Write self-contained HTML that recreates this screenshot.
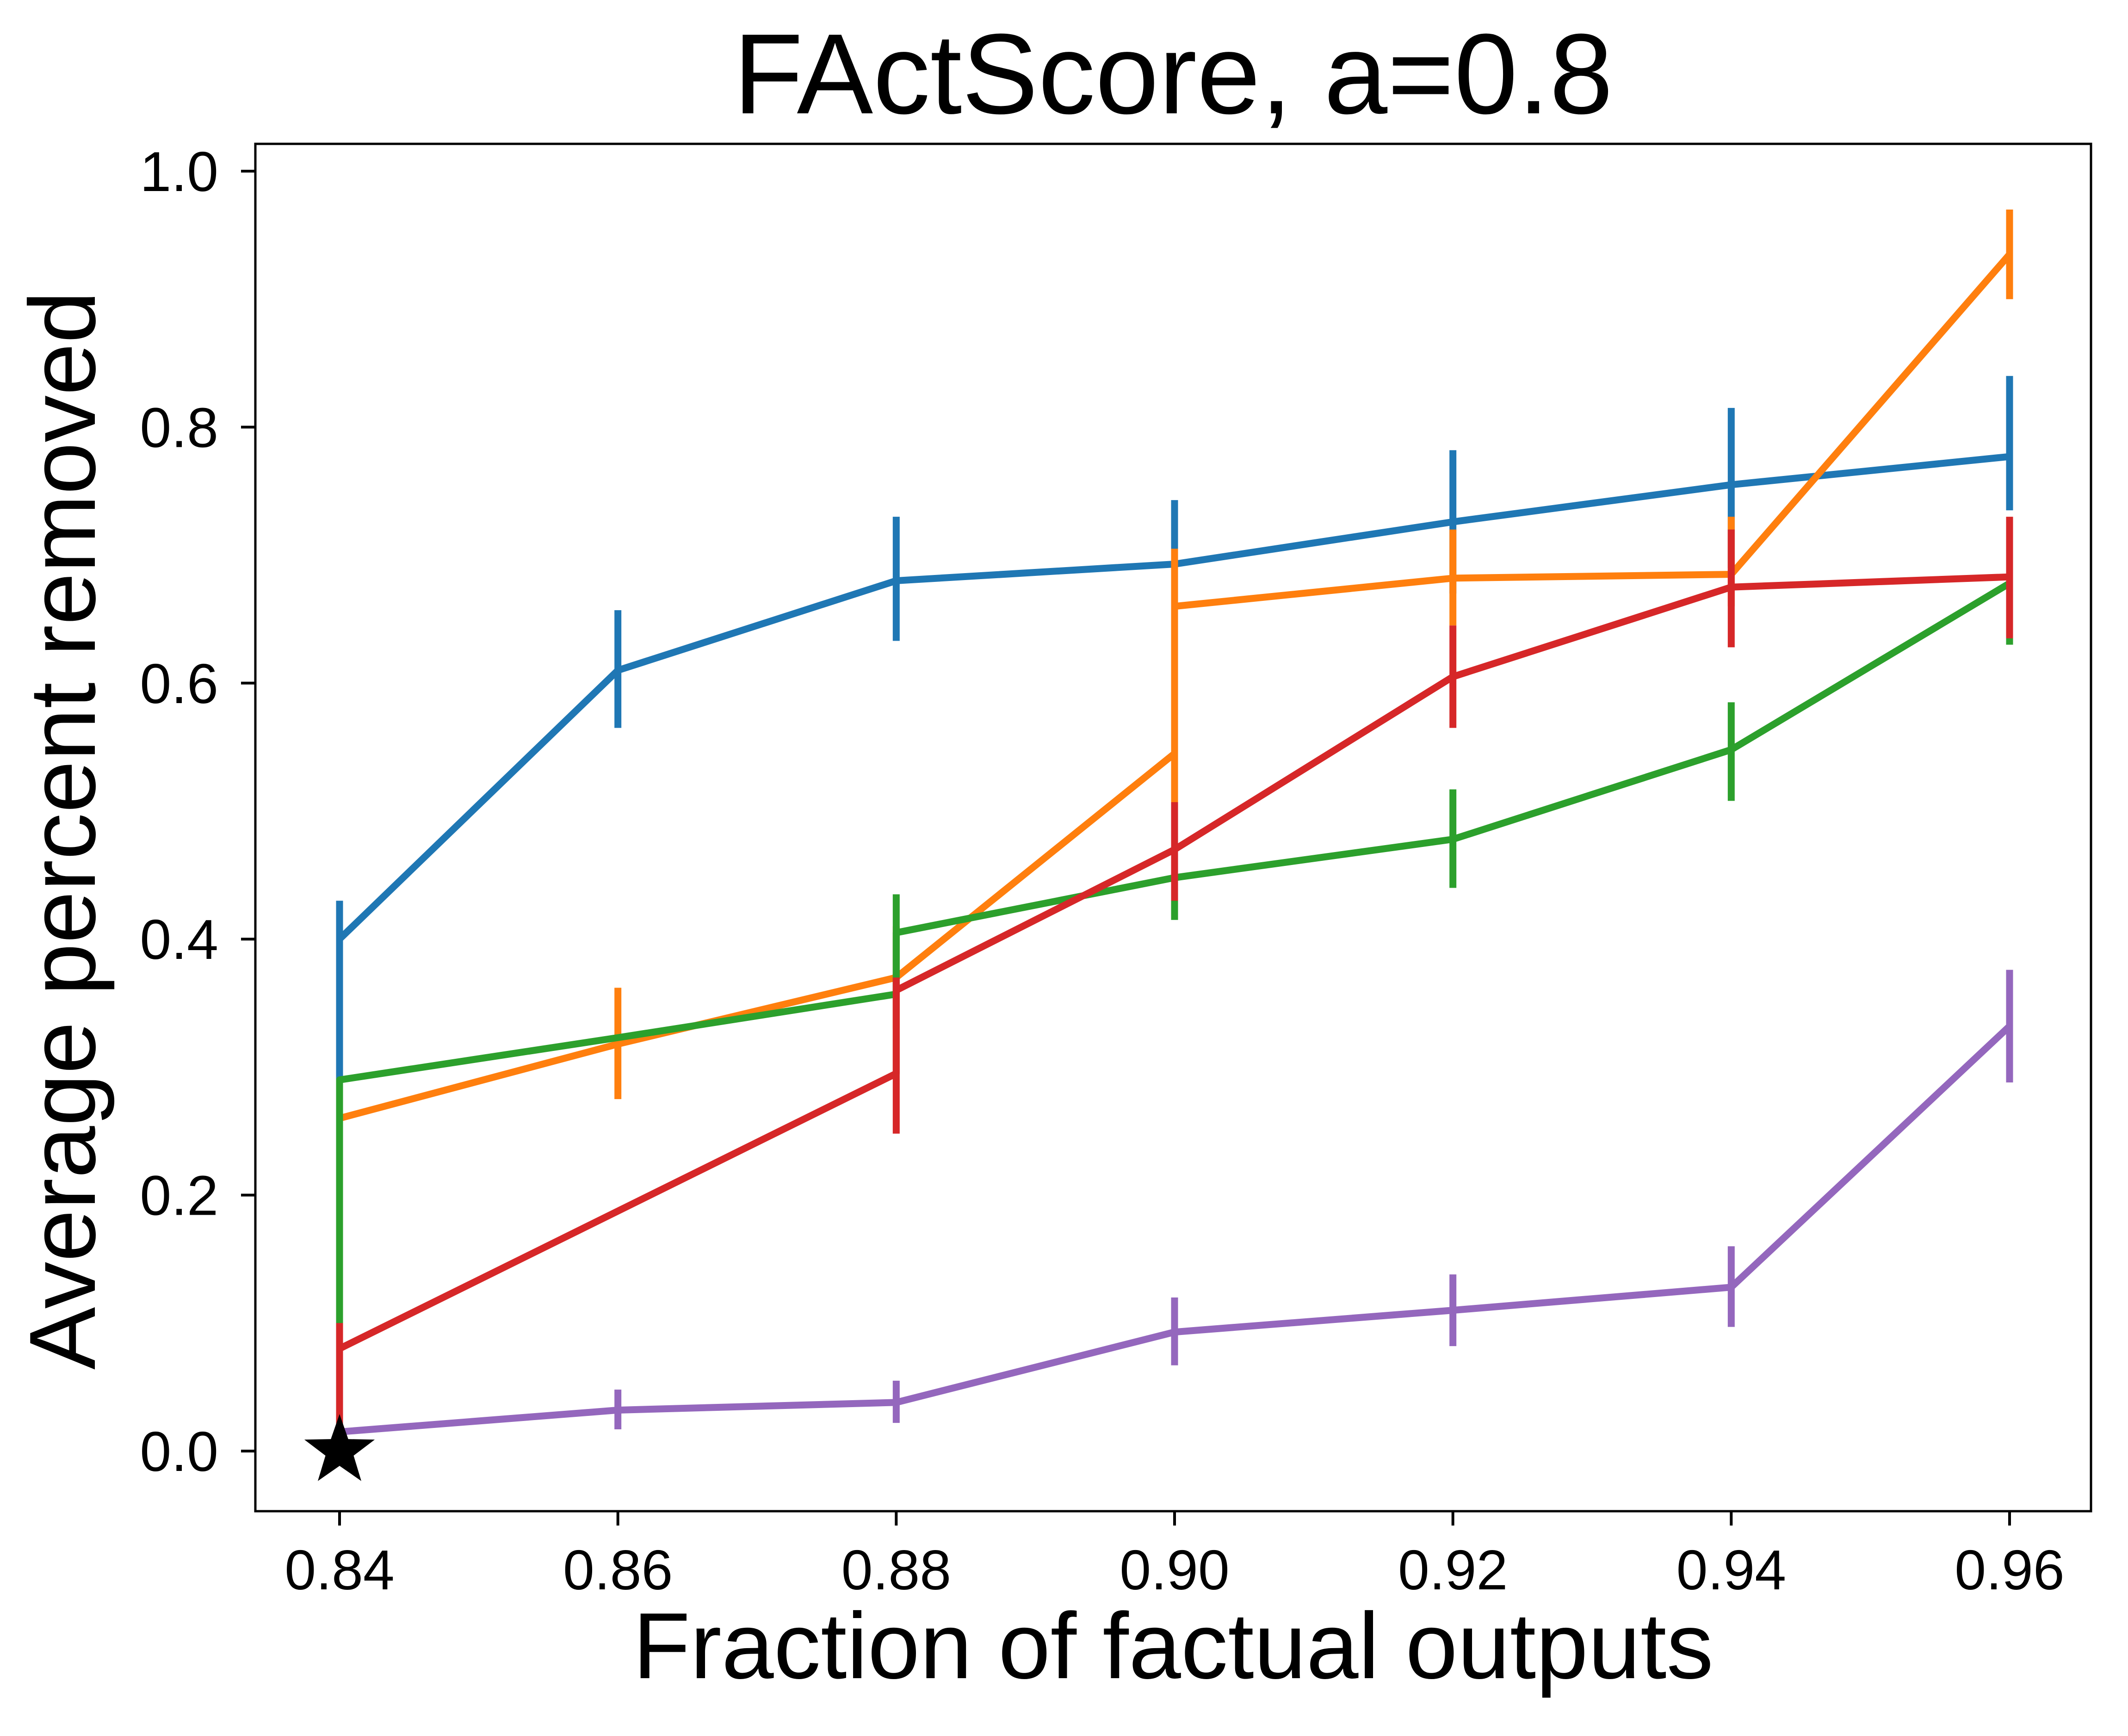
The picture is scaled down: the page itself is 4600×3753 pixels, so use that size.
<!DOCTYPE html>
<html><head><meta charset="utf-8"><style>body{margin:0;background:#fff}svg{display:block}</style></head>
<body>
<svg id="chart" width="4600" height="3753" viewBox="0 0 4600 3753" xmlns="http://www.w3.org/2000/svg" font-family="Liberation Sans, DejaVu Sans, sans-serif">
<rect width="4600" height="3753" fill="#fff"/>
<text x="2536" y="245" font-size="247" text-anchor="middle">FActScore, a=0.8</text>
<text x="2536" y="3628" font-size="203" text-anchor="middle">Fraction of factual outputs</text>
<text transform="translate(205,1795) rotate(-90)" font-size="203" text-anchor="middle">Average percent removed</text>
<g id="plot"></g>
<rect x="552" y="311" width="3968" height="2956" fill="none" stroke="#000" stroke-width="5"/>
</svg>
<script>
const xTicks=[0.84,0.86,0.88,0.90,0.92,0.94,0.96];
const xTickLabels=["0.84","0.86","0.88","0.90","0.92","0.94","0.96"];
const yTicks=[0,0.2,0.4,0.6,0.8,1.0];
const yTickLabels=["0.0","0.2","0.4","0.6","0.8","1.0"];
const seriesNames=["blue","orange","green","red","purple"];
const seriesColors=["#1f77b4","#ff7f0e","#2ca02c","#d62728","#9467bd"];
const blueX=[0.84,0.86,0.88,0.90,0.92,0.94,0.96];
const blueY=[0.40,0.61,0.68,0.693,0.726,0.755,0.777];
const blueErrX=[0.84,0.86,0.88,0.90,0.92,0.94,0.96];
const blueErrLo=[0.29,0.565,0.633,0.645,0.67,0.69,0.735];
const blueErrHi=[0.43,0.657,0.73,0.743,0.782,0.815,0.84];
const orangeX=[0.84,0.86,0.88,0.90,0.90,0.92,0.94,0.96];
const orangeY=[0.26,0.318,0.37,0.545,0.66,0.682,0.685,0.935];
const orangeErrX=[0.84,0.86,0.88,0.90,0.92,0.94,0.96];
const orangeErrLo=[0.24,0.275,0.33,0.505,0.645,0.66,0.90];
const orangeErrHi=[0.28,0.362,0.41,0.705,0.72,0.73,0.97];
const greenX=[0.84,0.84,0.86,0.88,0.88,0.90,0.92,0.94,0.96];
const greenY=[0.08,0.29,0.323,0.357,0.405,0.448,0.478,0.548,0.678];
const greenErrX=[0.84,0.88,0.90,0.92,0.94,0.96];
const greenErrLo=[0.08,0.36,0.415,0.44,0.508,0.63];
const greenErrHi=[0.29,0.435,0.48,0.517,0.585,0.68];
const redX=[0.84,0.88,0.88,0.90,0.92,0.94,0.96];
const redY=[0.08,0.295,0.36,0.47,0.605,0.675,0.683];
const redErrX=[0.84,0.88,0.90,0.92,0.94,0.96];
const redErrLo=[0.02,0.248,0.43,0.565,0.628,0.635];
const redErrHi=[0.10,0.37,0.507,0.645,0.72,0.73];
const purpleX=[0.84,0.86,0.88,0.90,0.92,0.94,0.96];
const purpleY=[0.015,0.032,0.038,0.093,0.11,0.128,0.332];
const purpleErrX=[0.86,0.88,0.90,0.92,0.94,0.96];
const purpleErrLo=[0.017,0.022,0.067,0.082,0.097,0.288];
const purpleErrHi=[0.048,0.055,0.12,0.138,0.16,0.376];
const starX=[0.84];
const starY=[0.0];

const NS="http://www.w3.org/2000/svg";
const sx=v=>734+(v-0.84)/0.12*(4344-734);
const sy=v=>3137-v*(3137-370);
const plot=document.getElementById('plot');
function mk(t,a){const e=document.createElementNS(NS,t);for(const k in a)e.setAttribute(k,a[k]);plot.appendChild(e);return e;}
xTicks.forEach((t,i)=>{
  const l=mk('line',{x1:sx(t),x2:sx(t),y1:3267,y2:3298,stroke:'#000','stroke-width':6});
  
  
  const tx=mk('text',{x:sx(t),y:3436,'font-size':122,'text-anchor':'middle'});
  tx.textContent=xTickLabels[i];
  
  
});
yTicks.forEach((t,i)=>{
  const l=mk('line',{x1:521,x2:552,y1:sy(t),y2:sy(t),stroke:'#000','stroke-width':6});
  
  
  const tx=mk('text',{x:472,y:sy(t)+43,'font-size':122,'text-anchor':'end'});
  tx.textContent=yTickLabels[i];
  
  
});
const all=[[blueX,blueY,blueErrX,blueErrLo,blueErrHi],[orangeX,orangeY,orangeErrX,orangeErrLo,orangeErrHi],[greenX,greenY,greenErrX,greenErrLo,greenErrHi],[redX,redY,redErrX,redErrLo,redErrHi],[purpleX,purpleY,purpleErrX,purpleErrLo,purpleErrHi]];
all.forEach((s,k)=>{
  const [X,Y,EX,EL,EH]=s;const c=seriesColors[k];
  EX.forEach((x,i)=>{
    const e=mk('line',{x1:sx(x),x2:sx(x),y1:sy(EL[i]),y2:sy(EH[i]),stroke:c,'stroke-width':15});
    
    
  });
  const p=mk('polyline',{points:X.map((x,i)=>sx(x)+','+sy(Y[i])).join(' '),fill:'none',stroke:c,'stroke-width':15,'stroke-linejoin':'round'});
  
  
});
starX.forEach((x,i)=>{
  const cx=sx(x),cy=sy(starY[i]),R=80,r=32;let pts=[];
  for(let j=0;j<10;j++){const a=-Math.PI/2+j*Math.PI/5,rr=j%2?r:R;pts.push((cx+rr*Math.cos(a))+','+(cy+rr*Math.sin(a)));}
  const s=mk('polygon',{points:pts.join(' '),fill:'#000'});
  
  
});
</script>
</body></html>
